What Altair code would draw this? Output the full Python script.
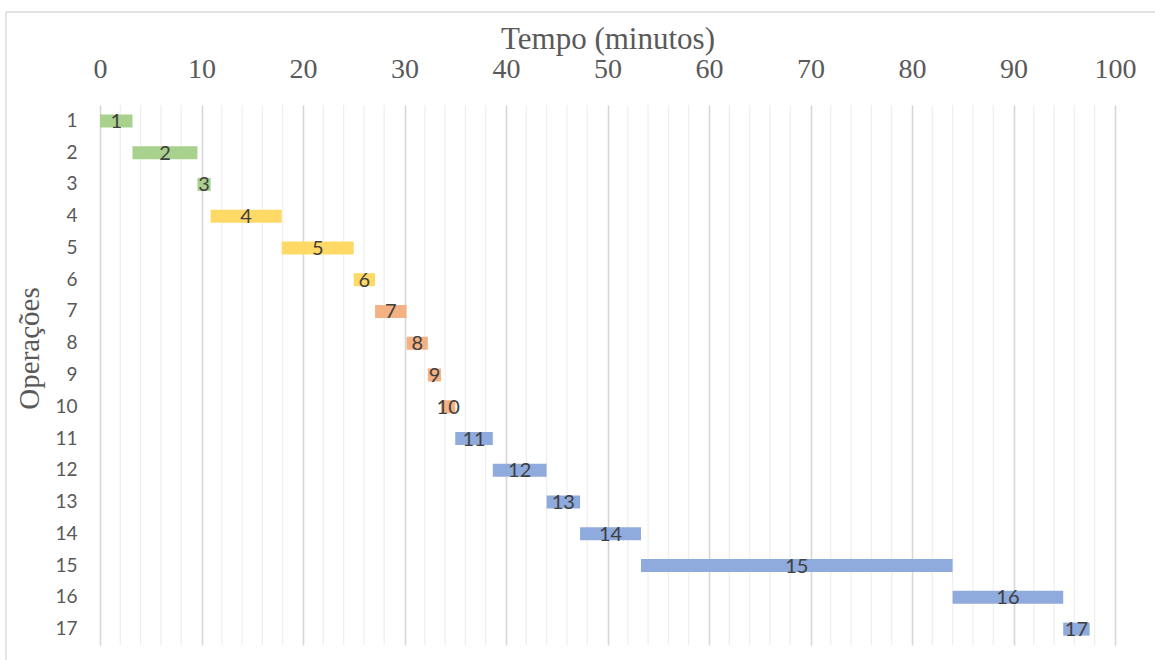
import altair as alt
import pandas as pd

# Gantt schedule of the operations (minutes)
operations = list(range(1, 18))
start_min = [0.0, 3.2, 9.6, 10.9, 17.9, 25.0, 27.1, 30.2, 32.3, 33.6,
             35.0, 38.7, 44.0, 47.3, 53.3, 84.0, 94.9]
duration_min = [3.2, 6.4, 1.3, 7.0, 7.1, 2.1, 3.1, 2.1, 1.3, 1.4,
                3.7, 5.3, 3.3, 6.0, 30.7, 10.9, 2.6]
group = ["A", "A", "A", "B", "B", "B", "C", "C", "C", "C",
         "D", "D", "D", "D", "D", "D", "D"]

group_names = ["A", "B", "C", "D"]
group_colors = ["#A9D18E", "#FFD966", "#F4B183", "#8FAADC"]

major_ticks = list(range(0, 101, 10))
minor_ticks = [v for v in range(2, 100, 2) if v % 10 != 0]

df = pd.DataFrame({
    "op": operations,
    "start": start_min,
    "dur": duration_min,
    "grp": group,
})
df["end"] = df["start"] + df["dur"]

W, H = 1015, 540

x_scale = alt.Scale(domain=[0, 100], nice=False, zero=False)
y_scale = alt.Scale(domain=operations, paddingInner=0, paddingOuter=0)

sans = "Lato"
serif = "Liberation Serif"

x_axis = alt.Axis(
    orient="top",
    values=major_ticks,
    title="Tempo (minutos)",
    titleFont=serif,
    titleFontSize=31,
    titleFontWeight="normal",
    titleColor="#595959",
    titleY=-57,
    titleBaseline="alphabetic",
    labelFont=serif,
    labelFontSize=28,
    labelColor="#595959",
    labelPadding=22,
    labelFlush=False,
    labelOverlap=False,
    ticks=False,
    domain=False,
    grid=True,
    gridColor="#d6d6d6",
    gridWidth=1.6,
)

y_axis = alt.Axis(
    title="Operações",
    titleFont=serif,
    titleFontSize=29,
    titleFontWeight="normal",
    titleColor="#595959",
    titleX=-71,
    titleY=243,
    titleAngle=-90,
    titleAlign="center",
    titleBaseline="middle",
    labelFont=sans,
    labelFontSize=19,
    labelColor="#595959",
    labelPadding=23,
    ticks=False,
    domain=False,
    grid=False,
)

minor = alt.Chart(pd.DataFrame({"v": minor_ticks})).mark_rule(
    color="#efefef", strokeWidth=1.3
).encode(x=alt.X("v:Q", scale=x_scale, axis=x_axis))

bars = alt.Chart(df).mark_bar(size=13, cornerRadius=0).encode(
    x=alt.X("start:Q", scale=x_scale, axis=x_axis),
    x2="end:Q",
    y=alt.Y("op:O", scale=y_scale, sort=operations, axis=y_axis),
    color=alt.Color(
        "grp:N",
        scale=alt.Scale(domain=group_names, range=group_colors),
        legend=None,
    ),
)

labels = alt.Chart(df).transform_calculate(
    mid="datum.start + datum.dur / 2"
).mark_text(font=sans, fontSize=20, color="#404040", baseline="middle", dy=1).encode(
    x=alt.X("mid:Q", scale=x_scale, axis=x_axis),
    y=alt.Y("op:O", scale=y_scale, sort=operations, axis=y_axis),
    text=alt.Text("op:O"),
)

# light frame on the top and left sides of the chart area
frame_top = alt.Chart(pd.DataFrame({"k": [0]})).mark_rule(
    color="#d9d9d9", strokeWidth=1.3
).encode(x=alt.value(-94), x2=alt.value(1060), y=alt.value(-93))
frame_left = alt.Chart(pd.DataFrame({"k": [0]})).mark_rule(
    color="#d9d9d9", strokeWidth=1.3
).encode(x=alt.value(-94), y=alt.value(-93), y2=alt.value(560))

chart = alt.layer(minor, bars, labels, frame_top, frame_left).properties(
    width=W,
    height=H,
    padding={"left": 100, "top": 105, "right": 40, "bottom": 15},
    autosize=alt.AutoSizeParams(type="none"),
    background="white",
).configure_view(stroke=None)

chart.save("out.html", embed_options={"renderer": "svg", "actions": False})
